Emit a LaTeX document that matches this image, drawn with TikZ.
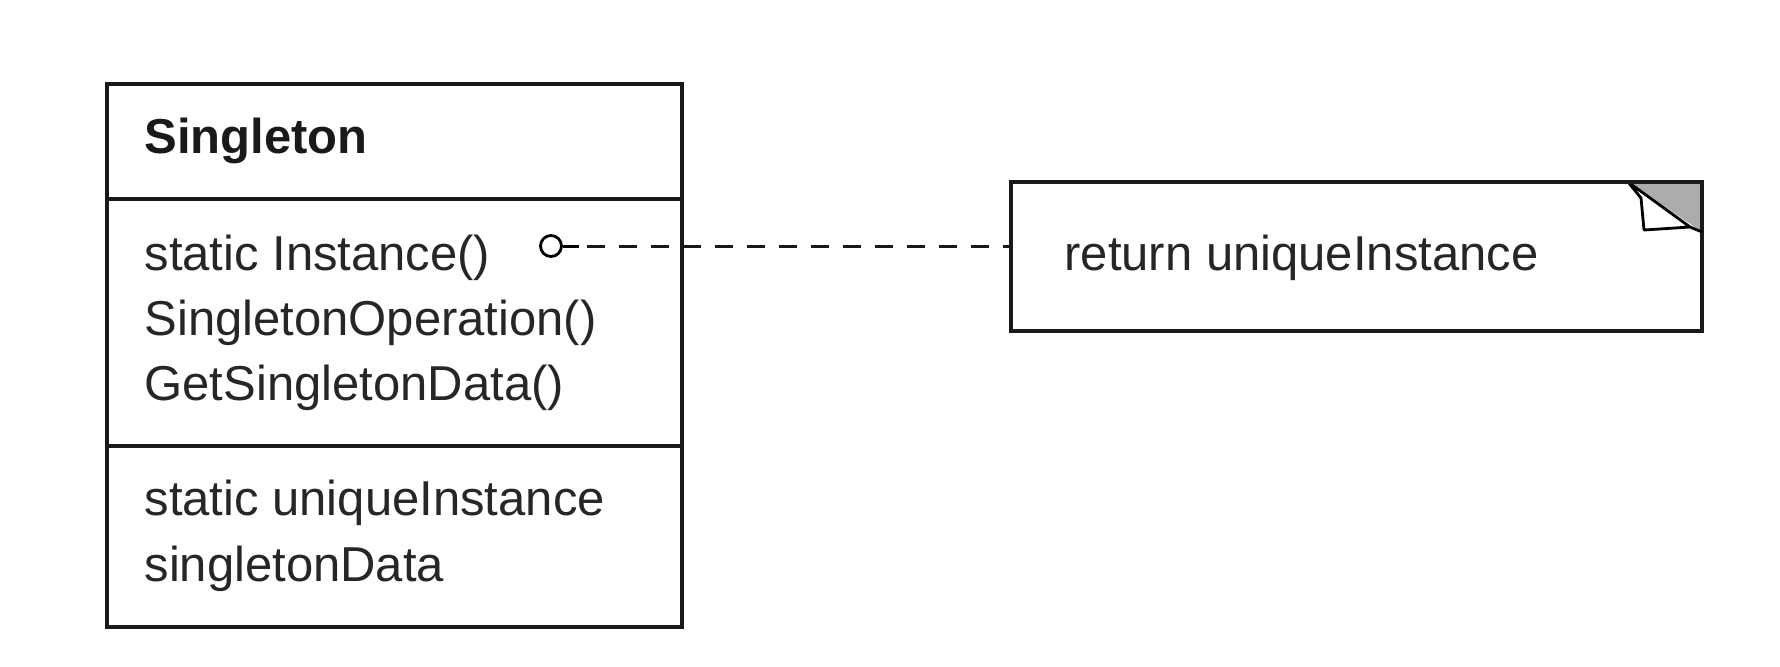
\documentclass[tikz,border=0pt]{standalone}
\usepackage{fontspec}
\setmainfont{Liberation Sans}
\begin{document}
\begin{tikzpicture}[x=0.5pt,y=-0.5pt,
  line width=1.5pt,
  txt/.style={anchor=base west, inner sep=0pt, text=black!85, font=\fontsize{24.5}{29}\selectfont},
  boxline/.style={draw=black!90, line width=1.6pt},
  dep/.style={draw=black!90, line width=1.5pt, dash pattern=on 9pt off 7pt}]
\useasboundingbox (0,0) rectangle (1780,666);
% class box
\coordinate (clsNW) at (107,84);
\coordinate (clsSE) at (682,627);
\draw[boxline] (clsNW) rectangle (clsSE);
\coordinate (d1w) at (107,199);
\coordinate (d1e) at (682,199);
\coordinate (d2w) at (107,446);
\coordinate (d2e) at (682,446);
\draw[boxline] (d1w) -- (d1e);
\draw[boxline] (d2w) -- (d2e);
\node[txt, text=black!90, font=\fontsize{24.5}{29}\selectfont\bfseries] (name) at (143,153) {Singleton};
\node[txt] (op1) at (143,270) {static Instance()};
\node[txt] (op2) at (143,335) {SingletonOperation()};
\node[txt] (op3) at (143,400) {GetSingletonData()};
\node[txt] (at1) at (143,515) {static uniqueInstance};
\node[txt] (at2) at (143,581) {singletonData};
% note
\coordinate (ntNW) at (1011,182);
\coordinate (ntSE) at (1702,331);
\fill[gray!65] (1628,182) -- (1702,182) -- (1702,232) -- cycle;
\filldraw[fill=white, draw=black, line width=1.4pt, line join=round] (1628,182) -- (1641,198) -- (1644,230) -- (1690,227) -- cycle;
\draw[boxline] (ntNW) rectangle (ntSE);
\draw[black, line width=1.4pt, line join=round] (1690,227) -- (1702,232);
\node[txt] (note) at (1063,270) {return uniqueInstance};
\coordinate (noteL) at (1011,246);
% connector
\node[draw=black, circle, line width=1.4pt, minimum size=10.5pt, inner sep=0pt] (circ) at (551,246) {};
\draw[black, line width=1.5pt] (circ.east) -- ++(16,0) coordinate (dstart);
\draw[dep] ([xshift=12pt]circ.east) -- (noteL);
\end{tikzpicture}
\end{document}
